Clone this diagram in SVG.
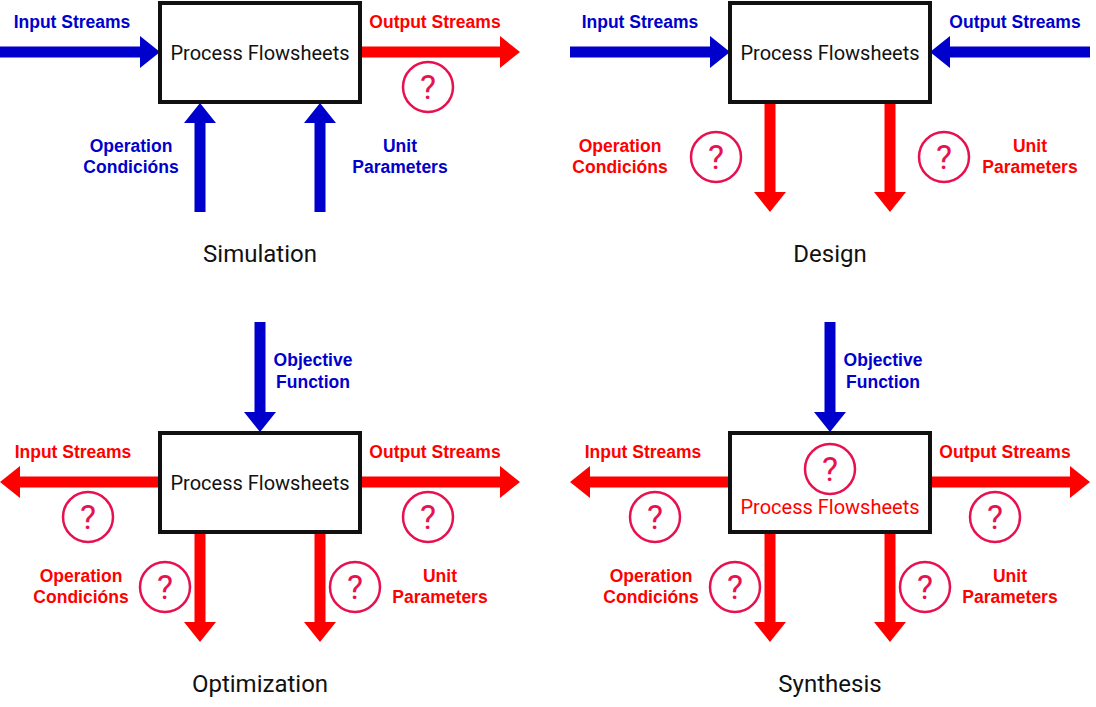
<svg xmlns="http://www.w3.org/2000/svg" width="1096" height="707" viewBox="0 0 1096 707">
<style>
.box{fill:#fff;stroke:#111;stroke-width:4}
.bt{font-family:Roboto,"Liberation Sans",sans-serif;font-size:20px;fill:#111;text-anchor:middle}
.title{font-family:Roboto,"Liberation Sans",sans-serif;font-size:24px;fill:#111;text-anchor:middle}
.lb{font-family:"Liberation Sans",Arial,sans-serif;font-weight:bold;font-size:17.5px;text-anchor:middle}
.b{fill:#0000CC}
.r{fill:#FF0000}
.q circle{fill:none;stroke:#E8114F;stroke-width:2.5}
.q text{font-family:Roboto,"Liberation Sans",sans-serif;font-size:34px;fill:#E8114F;text-anchor:middle}
</style>
<rect width="1096" height="707" fill="#fff"/>

<g id="connectors">
  <!-- Simulation -->
  <polygon class="b" points="0,46.5 140,46.5 140,36 160,52 140,68 140,57.5 0,57.5"/>
  <polygon class="r" points="360,46.5 500,46.5 500,36 520,52 500,68 500,57.5 360,57.5"/>
  <polygon class="b" points="194.5,212 194.5,123 184,123 200,103 216,123 205.5,123 205.5,212"/>
  <polygon class="b" points="314.5,212 314.5,123 304,123 320,103 336,123 325.5,123 325.5,212"/>
  <!-- Design -->
  <polygon class="b" points="570,46.5 710,46.5 710,36 730,52 710,68 710,57.5 570,57.5"/>
  <polygon class="b" points="1090,46.5 950,46.5 950,36 930,52 950,68 950,57.5 1090,57.5"/>
  <polygon class="r" points="764.5,102 764.5,192 754,192 770,212 786,192 775.5,192 775.5,102"/>
  <polygon class="r" points="884.5,102 884.5,192 874,192 890,212 906,192 895.5,192 895.5,102"/>
  <!-- Optimization -->
  <polygon class="b" points="254.5,322 254.5,412 244,412 260,432 276,412 265.5,412 265.5,322"/>
  <polygon class="r" points="160,476.5 20,476.5 20,466 0,482 20,498 20,487.5 160,487.5"/>
  <polygon class="r" points="360,476.5 500,476.5 500,466 520,482 500,498 500,487.5 360,487.5"/>
  <polygon class="r" points="194.5,532 194.5,622 184,622 200,642 216,622 205.5,622 205.5,532"/>
  <polygon class="r" points="314.5,532 314.5,622 304,622 320,642 336,622 325.5,622 325.5,532"/>
  <!-- Synthesis -->
  <polygon class="b" points="824.5,322 824.5,412 814,412 830,432 846,412 835.5,412 835.5,322"/>
  <polygon class="r" points="730,476.5 590,476.5 590,466 570,482 590,498 590,487.5 730,487.5"/>
  <polygon class="r" points="930,476.5 1070,476.5 1070,466 1090,482 1070,498 1070,487.5 930,487.5"/>
  <polygon class="r" points="764.5,532 764.5,622 754,622 770,642 786,622 775.5,622 775.5,532"/>
  <polygon class="r" points="884.5,532 884.5,622 874,622 890,642 906,622 895.5,622 895.5,532"/>
</g>

<g id="sim-box"><rect class="box" x="160" y="3" width="200" height="99"/><text class="bt" x="260" y="60">Process Flowsheets</text></g>
<g id="design-box"><rect class="box" x="730" y="3" width="200" height="99"/><text class="bt" x="830" y="60">Process Flowsheets</text></g>
<g id="opt-box"><rect class="box" x="160" y="433" width="200" height="99"/><text class="bt" x="260" y="490">Process Flowsheets</text></g>
<g id="syn-box"><rect class="box" x="730" y="433" width="200" height="99"/>
  <g class="q"><circle cx="830" cy="469" r="25"/><text x="830" y="481">?</text></g>
  <text class="bt" x="830" y="514" style="fill:#FF0000">Process Flowsheets</text></g>

<g id="sim-labels">
  <text class="lb b" x="72" y="28">Input Streams</text>
  <text class="lb r" x="435" y="28">Output Streams</text>
  <text class="lb b" x="131" y="152">Operation</text>
  <text class="lb b" x="131" y="173">Condicións</text>
  <text class="lb b" x="400" y="152">Unit</text>
  <text class="lb b" x="400" y="173">Parameters</text>
  <g class="q"><circle cx="428" cy="87" r="25"/><text x="428" y="99">?</text></g>
  <text class="title" x="260" y="262">Simulation</text>
</g>

<g id="design-labels">
  <text class="lb b" x="640" y="28">Input Streams</text>
  <text class="lb b" x="1015" y="28">Output Streams</text>
  <text class="lb r" x="620" y="152">Operation</text>
  <text class="lb r" x="620" y="173">Condicións</text>
  <text class="lb r" x="1030" y="152">Unit</text>
  <text class="lb r" x="1030" y="173">Parameters</text>
  <g class="q"><circle cx="716" cy="157" r="25"/><text x="716" y="169">?</text></g>
  <g class="q"><circle cx="944" cy="157" r="25"/><text x="944" y="169">?</text></g>
  <text class="title" x="830" y="262">Design</text>
</g>

<g id="opt-labels">
  <text class="lb b" x="313" y="366">Objective</text>
  <text class="lb b" x="313" y="388">Function</text>
  <text class="lb r" x="73" y="458">Input Streams</text>
  <text class="lb r" x="435" y="458">Output Streams</text>
  <text class="lb r" x="81" y="582">Operation</text>
  <text class="lb r" x="81" y="603">Condicións</text>
  <text class="lb r" x="440" y="582">Unit</text>
  <text class="lb r" x="440" y="603">Parameters</text>
  <g class="q"><circle cx="88" cy="517" r="25"/><text x="88" y="529">?</text></g>
  <g class="q"><circle cx="428" cy="517" r="25"/><text x="428" y="529">?</text></g>
  <g class="q"><circle cx="165" cy="587" r="25"/><text x="165" y="599">?</text></g>
  <g class="q"><circle cx="355" cy="587" r="25"/><text x="355" y="599">?</text></g>
  <text class="title" x="260" y="692">Optimization</text>
</g>

<g id="syn-labels">
  <text class="lb b" x="883" y="366">Objective</text>
  <text class="lb b" x="883" y="388">Function</text>
  <text class="lb r" x="643" y="458">Input Streams</text>
  <text class="lb r" x="1005" y="458">Output Streams</text>
  <text class="lb r" x="651" y="582">Operation</text>
  <text class="lb r" x="651" y="603">Condicións</text>
  <text class="lb r" x="1010" y="582">Unit</text>
  <text class="lb r" x="1010" y="603">Parameters</text>
  <g class="q"><circle cx="655" cy="517" r="25"/><text x="655" y="529">?</text></g>
  <g class="q"><circle cx="995" cy="517" r="25"/><text x="995" y="529">?</text></g>
  <g class="q"><circle cx="735" cy="587" r="25"/><text x="735" y="599">?</text></g>
  <g class="q"><circle cx="925" cy="587" r="25"/><text x="925" y="599">?</text></g>
  <text class="title" x="830" y="692">Synthesis</text>
</g>
</svg>
